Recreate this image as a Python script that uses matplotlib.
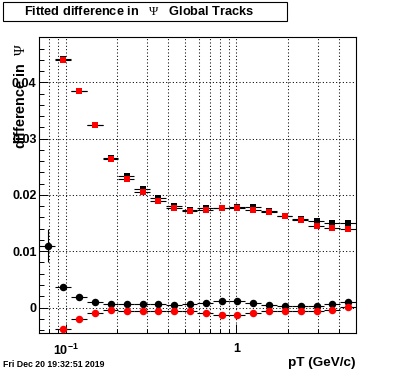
import numpy as np
import matplotlib
matplotlib.use("Agg")
import matplotlib.pyplot as plt
from matplotlib.patches import Rectangle
from matplotlib.ticker import FixedLocator, MultipleLocator, FuncFormatter

plt.rcParams["font.family"] = "Liberation Sans"
plt.rcParams["mathtext.fontset"] = "custom"
plt.rcParams["mathtext.rm"] = "Liberation Serif"
plt.rcParams["mathtext.it"] = "Liberation Serif:italic"
plt.rcParams["mathtext.bf"] = "Liberation Sans:bold"

# pT bin edges (GeV/c), 20 log bins
pt_edges = [0.070, 0.0867, 0.1073, 0.1328, 0.1644, 0.2035, 0.2519, 0.3118,
            0.3860, 0.4779, 0.5916, 0.7323, 0.9065, 1.1222, 1.3892, 1.7197,
            2.1288, 2.6353, 3.2622, 4.0384, 5.000]

nan = float("nan")
# squares: black and red
sq_black = [nan, 0.0442, 0.0385, 0.0324, 0.0266, 0.0233, 0.0210, 0.0194, 0.0181, 0.0174,
            0.0176, 0.0177, 0.0178, 0.0178, 0.0172, 0.0163, 0.0158, 0.0153, 0.0150, 0.0150]
sq_red = [nan, 0.0440, 0.0385, 0.0324, 0.0264, 0.0229, 0.0206, 0.0190, 0.0177, 0.0172,
          0.0174, 0.0177, 0.0177, 0.0174, 0.0169, 0.0163, 0.0155, 0.0145, 0.0141, 0.0139]
# circles: black and red
ci_black = [0.0110, 0.0036, 0.0018, 0.0009, 0.0006, 0.0006, 0.0006, 0.0006, 0.00045, 0.0006,
            0.00085, 0.00115, 0.00115, 0.00085, 0.0005, 0.00032, 0.00032, 0.00032, 0.00057, 0.00103]
ci_red = [nan, -0.0039, -0.0021, -0.0009, -0.0005, -0.00067, -0.00067, -0.00067, -0.00067, -0.00067,
          -0.00103, -0.00139, -0.00139, -0.00103, -0.00067, -0.00067, -0.00067, -0.00067, -0.00044, 0.0001]
ci_black_err = [0.0030] + [0.0002] * 19
sq_err = [0.0002] * 20
ci_red_err = [0.0002] * 20

lo = np.array(pt_edges[:-1])
hi = np.array(pt_edges[1:])
x = (lo + hi) / 2
xerr = [x - lo, hi - x]

W, H = 396, 372
fig = plt.figure(figsize=(W / 100, H / 100), dpi=100)
ax = fig.add_axes([39.3 / W, 1 - 333.3 / H, (355.7 - 39.3) / W, (333.3 - 37) / H])

ax.set_xscale("log")
ax.set_xlim(0.07, 5.0)
ax.set_ylim(-0.00458, 0.04805)

kw = dict(linestyle="none", ecolor="black", elinewidth=0.8, capsize=0, zorder=3)
ax.errorbar(x, sq_black, yerr=sq_err, xerr=xerr, fmt="s", color="black", ms=4.7, mew=0, **kw)
ax.errorbar(x, sq_red, yerr=sq_err, xerr=xerr, fmt="s", color="red", ms=4.7, mew=0, **kw)
ax.errorbar(x, ci_black, yerr=ci_black_err, xerr=xerr, fmt="o", color="black", ms=5.4, mew=0, **kw)
ax.errorbar(x, ci_red, yerr=ci_red_err, xerr=xerr, fmt="o", color="red", ms=5.4, mew=0, **kw)

# axes ticks
ax.xaxis.set_major_locator(FixedLocator([0.1, 1.0]))
ax.xaxis.set_minor_locator(FixedLocator([0.08, 0.09, 0.2, 0.3, 0.4, 0.5, 0.6, 0.7, 0.8, 0.9, 2, 3, 4]))
ax.set_xticklabels([r"$\mathbf{10^{-1}}$", "1"])
ax.xaxis.set_minor_formatter(FuncFormatter(lambda v, p: ""))
ax.yaxis.set_major_locator(MultipleLocator(0.01))
ax.yaxis.set_minor_locator(MultipleLocator(0.002))
ax.yaxis.set_major_formatter(FuncFormatter(lambda v, p: "0" if abs(v) < 1e-9 else f"{v:.2f}"))

ax.tick_params(which="both", direction="in", top=False, right=False, width=0.7)
ax.tick_params(axis="x", which="major", length=6.5, pad=7, labelsize=9)
ax.tick_params(axis="x", which="minor", length=3.2)
ax.tick_params(axis="y", which="major", length=6.8, pad=2, labelsize=9)
ax.tick_params(axis="y", which="minor", length=3.8)
for lab in ax.get_xticklabels() + ax.get_yticklabels():
    lab.set_fontweight("bold")

ax.grid(True, which="major", axis="both", color="black", ls=(0, (1, 2.2)), lw=0.75)
ax.grid(True, which="minor", axis="x", color="black", ls=(0, (1, 2.2)), lw=0.75)
ax.set_axisbelow(True)
for s in ax.spines.values():
    s.set_linewidth(0.8)

# title box
fig.patches.append(Rectangle((3.3 / W, 1 - 21 / H), (287 - 3.3) / W, (21 - 1.7) / H,
                             transform=fig.transFigure, facecolor="white",
                             edgecolor="black", lw=0.8))
fig.text(139.5 / W, 1 - 11.5 / H, r"Fitted difference in   $\Psi$   Global Tracks",
         ha="center", va="center", fontsize=9.2, fontweight="bold")

# y title sits over the tick labels, as in the ROOT canvas
fig.text(21 / W, 1 - 43 / H, r"difference in  $\Psi$", rotation=90,
         ha="center", va="top", fontsize=10.4, fontweight="bold")
fig.text(355.7 / W, 1 - 363 / H, "pT (GeV/c)", ha="right", va="center",
         fontsize=9.7, fontweight="bold")
fig.text(2.7 / W, 1 - 364.3 / H, "Fri Dec 20 19:32:51 2019", ha="left", va="center",
         fontsize=6.3, fontweight="bold")

fig.savefig("out.png", dpi=100)
